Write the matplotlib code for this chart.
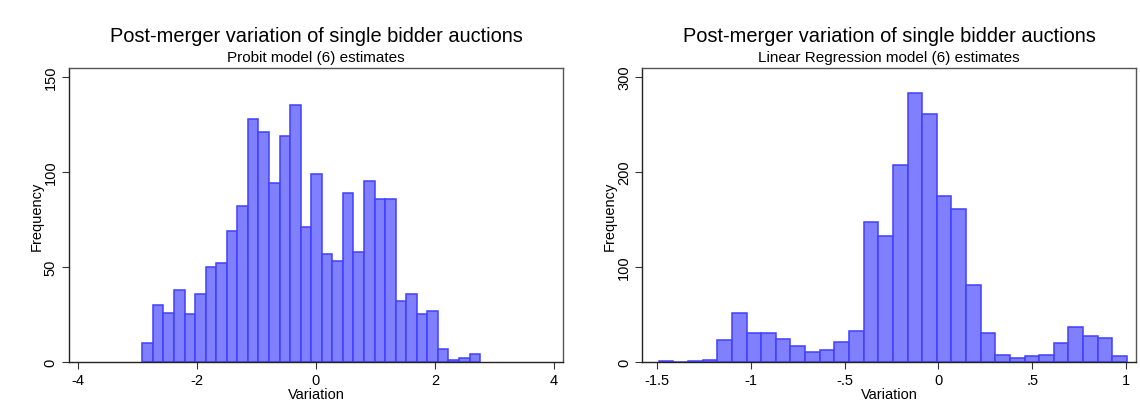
import numpy as np
import matplotlib
import matplotlib.pyplot as plt

matplotlib.use('agg')
plt.rcParams['font.family'] = ['Liberation Sans', 'DejaVu Sans']

# bin counts, 32 equal-width bins per model
probit_counts = [10, 30, 26, 38, 25, 36, 50, 52, 69, 82, 128, 121, 94, 119, 135, 71,
                 99, 57, 53, 89, 58, 95, 86, 86, 32, 36, 25, 27, 7, 1, 2, 4]
probit_range = (-2.914, 2.76)

linreg_counts = [1, 0, 1, 2, 23, 52, 31, 30, 24, 17, 11, 13, 21, 33, 147, 133,
                 207, 283, 261, 175, 161, 81, 30, 7, 4, 6, 7, 20, 37, 27, 25, 6]
linreg_range = (-1.489, 1.004)

main_title = 'Post-merger variation of single bidder auctions'
subtitles = ['Probit model (6) estimates', 'Linear Regression model (6) estimates']

probit_xticks = [-4, -2, 0, 2, 4]
probit_xlabels = ['-4', '-2', '0', '2', '4']
probit_yticks = [0, 50, 100, 150]

linreg_xticks = [-1.5, -1, -0.5, 0, 0.5, 1]
linreg_xlabels = ['-1.5', '-1', '-.5', '0', '.5', '1']
linreg_yticks = [0, 100, 200, 300]

fill = (0.5, 0.5, 1.0)
edge = (0.25, 0.25, 1.0)
frame = '#555555'


def draw_hist(ax, counts, rng, xticks, xlabels, yticks, xlim, ylim, subtitle):
    edges = np.linspace(rng[0], rng[1], len(counts) + 1)
    ax.bar(edges[:-1], counts, width=np.diff(edges), align='edge',
           facecolor=fill, edgecolor=edge, linewidth=1.1)
    ax.set_xlim(xlim)
    ax.set_ylim(ylim)
    ax.set_xticks(xticks, xlabels)
    ax.set_yticks(yticks, [str(v) for v in yticks])
    ax.tick_params(axis='both', direction='out', length=5, width=0.8,
                   color='#333333', labelsize=10.5, pad=3)
    for lab in ax.get_yticklabels():
        lab.set_rotation(90)
        lab.set_va('center')
    for side in ax.spines:
        ax.spines[side].set_color(frame)
        ax.spines[side].set_linewidth(1.0)
    ax.spines['bottom'].set_color('#222222')
    ax.spines['left'].set_color('#222222')
    ax.set_xlabel('Variation', fontsize=10.5, labelpad=0)
    ax.set_ylabel('Frequency', fontsize=10.5, labelpad=0)
    ax.text(0.5, 1.112, main_title, transform=ax.transAxes, ha='center',
            va='center', fontsize=14.4)
    ax.text(0.5, 1.037, subtitle, transform=ax.transAxes, ha='center',
            va='center', fontsize=11)


fig = plt.figure(figsize=(11.4, 4.06), dpi=100)
ax1 = fig.add_axes([0.0605, 0.106, 0.4333, 0.724])
ax2 = fig.add_axes([0.5634, 0.106, 0.4331, 0.724])

draw_hist(ax1, probit_counts, probit_range, probit_xticks, probit_xlabels,
          probit_yticks, (-4.146, 4.15), (0, 154.7), subtitles[0])
draw_hist(ax2, linreg_counts, linreg_range, linreg_xticks, linreg_xlabels,
          linreg_yticks, (-1.577, 1.052), (0, 309.5), subtitles[1])

fig.savefig('out.png', dpi=100)
